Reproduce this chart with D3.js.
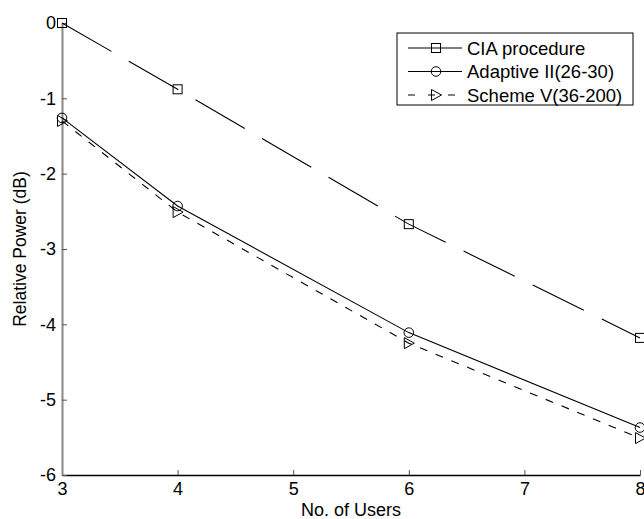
<!DOCTYPE html>
<html>
<head>
<meta charset="utf-8">
<script src="https://cdn.jsdelivr.net/npm/d3@7"></script>
<style>
  body { margin: 0; background: #fff; }
  svg { display: block; font-family: Arial, "Liberation Sans", sans-serif; }
</style>
</head>
<body>
<div id="chart"></div>
<script>
// values
const users = [3, 4, 6, 8];
const ciaValues = [0, -0.88, -2.67, -4.18];
const adaptiveValues = [-1.26, -2.43, -4.11, -5.37];
const schemeValues = [-1.30, -2.51, -4.25, -5.51];
const seriesNames = ["CIA procedure", "Adaptive II(26-30)", "Scheme V(36-200)"];
const xTicks = [3, 4, 5, 6, 7, 8];
const yTicks = [-6, -5, -4, -3, -2, -1, 0];

const W = 644, H = 519;
const plot = { left: 62, right: 640, top: 23, bottom: 475 };

const svg = d3.select("#chart")
    .append("svg")
    .attr("width", W)
    .attr("height", H);

const x = d3.scaleLinear().domain([3, 8]).range([plot.left, plot.right]);
const y = d3.scaleLinear().domain([-6, 0]).range([plot.bottom, plot.top]);

// axes, ticks pointing inward like matlab
const xAxis = svg.append("g")
    .attr("transform", `translate(0,${plot.bottom})`)
    .call(d3.axisBottom(x).tickValues(xTicks).tickSizeInner(-5).tickSizeOuter(0)
        .tickPadding(7).tickFormat(d => String(d)));
xAxis.select(".domain").attr("stroke", "#000").attr("stroke-width", 1.5);

const yAxis = svg.append("g")
    .attr("transform", `translate(${plot.left},0)`)
    .call(d3.axisLeft(y).tickValues(yTicks).tickSizeInner(-5).tickSizeOuter(0)
        .tickPadding(6).tickFormat(d => String(d)));
yAxis.select(".domain").attr("stroke", "#888").attr("stroke-width", 2);

svg.selectAll(".tick line").attr("stroke", "#555");
svg.selectAll(".tick text").attr("font-size", 18).attr("fill", "#000")
    .attr("font-family", "Arial, 'Liberation Sans', sans-serif");

svg.append("text")
    .attr("x", (plot.left + plot.right) / 2)
    .attr("y", 516)
    .attr("text-anchor", "middle")
    .attr("font-size", 18)
    .text("No. of Users");

svg.append("text")
    .attr("transform", `translate(26,${(plot.top + plot.bottom) / 2}) rotate(-90)`)
    .attr("text-anchor", "middle")
    .attr("font-size", 17.5)
    .text("Relative Power (dB)");

// marker shapes
function square(g, cx, cy) {
    g.append("rect").attr("x", cx - 4.5).attr("y", cy - 4.5)
        .attr("width", 9).attr("height", 9)
        .attr("fill", "none").attr("stroke", "#000").attr("stroke-width", 1);
}
function circle(g, cx, cy) {
    g.append("circle").attr("cx", cx).attr("cy", cy).attr("r", 4.8)
        .attr("fill", "none").attr("stroke", "#000").attr("stroke-width", 1);
}
function triangle(g, cx, cy) {
    g.append("path")
        .attr("d", `M${cx - 4.5},${cy - 5.5} L${cx + 5.5},${cy} L${cx - 4.5},${cy + 5.5} Z`)
        .attr("fill", "none").attr("stroke", "#000").attr("stroke-width", 1);
}

const series = [
    { name: seriesNames[0], values: ciaValues, dash: "57,20", legendDash: null, marker: square },
    { name: seriesNames[1], values: adaptiveValues, dash: null, legendDash: null, marker: circle },
    { name: seriesNames[2], values: schemeValues, dash: "8,9", legendDash: "7,13", marker: triangle }
];

const line = d3.line()
    .x(d => x(d[0]))
    .y(d => y(d[1]));

series.forEach(s => {
    const pts = users.map((u, i) => [u, s.values[i]]);
    svg.append("path")
        .datum(pts)
        .attr("d", line)
        .attr("fill", "none")
        .attr("stroke", "#000")
        .attr("stroke-width", 1.1)
        .attr("stroke-dasharray", s.dash);
    const g = svg.append("g");
    pts.forEach(p => s.marker(g, x(p[0]), y(p[1])));
});

// legend
const legend = svg.append("g");
legend.append("rect")
    .attr("x", 397).attr("y", 33)
    .attr("width", 236).attr("height", 72)
    .attr("fill", "#fff")
    .attr("stroke", "#000").attr("stroke-width", 1);

series.forEach((s, i) => {
    const ly = 48 + i * 23.5;
    legend.append("line")
        .attr("x1", 408).attr("x2", 462)
        .attr("y1", ly).attr("y2", ly)
        .attr("stroke", "#000").attr("stroke-width", 1.1)
        .attr("stroke-dasharray", s.legendDash);
    s.marker(legend, 436, ly);
    legend.append("text")
        .attr("x", 467).attr("y", ly)
        .attr("dy", "0.36em")
        .attr("font-size", 18.5)
        .text(s.name);
});
</script>
</body>
</html>
